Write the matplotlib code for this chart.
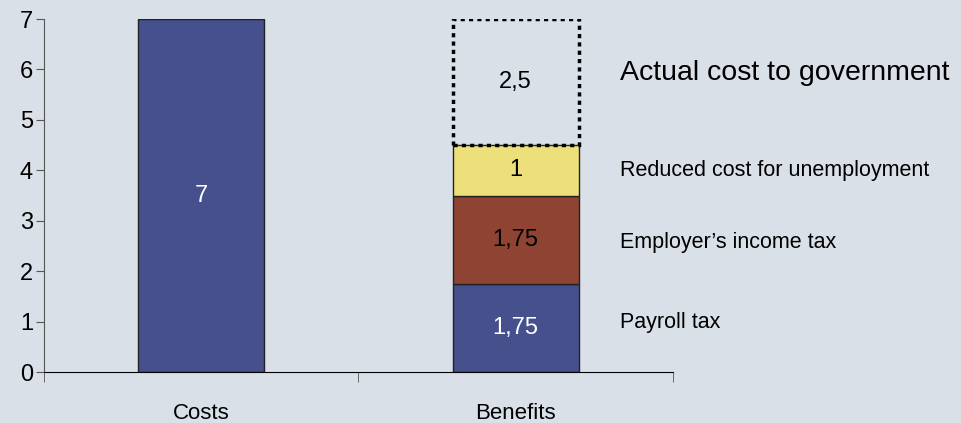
import matplotlib.pyplot as plt
import numpy as np

plt.rcParams['font.family'] = ['Liberation Sans', 'DejaVu Sans']

categories = ["Costs", "Benefits"]
costs = [7]
payroll = 1.75
employer_tax = 1.75
unemployment = 1
actual_cost = 2.5
segment_names = ["Payroll tax", "Employer\u2019s income tax",
                 "Reduced cost for unemployment", "Actual cost to government"]

bg = "#dae0e8"
blue = "#46508c"
brown = "#8f4433"
yellow = "#ede07a"

fig = plt.figure(figsize=(9.62, 4.23), dpi=100, facecolor=bg)
ax = fig.add_axes([44/962, 51/423, 629/962, 353/423])
ax.set_facecolor(bg)

x = np.arange(len(categories))
w = 0.4
ax.bar(x[0], costs[0], w, color=blue, edgecolor="#222222", linewidth=1)
ax.text(x[0], costs[0]/2, "7", color="white", ha="center", va="center", fontsize=17)

segs = [payroll, employer_tax, unemployment]
cols = [blue, brown, yellow]
txtcols = ["white", "black", "black"]
labels = ["1,75", "1,75", "1"]
name_dy = [0.1, -0.06, 0]
bottom = 0
for i, v in enumerate(segs):
    ax.bar(x[1], v, w, bottom=bottom, color=cols[i], edgecolor="#222222", linewidth=1)
    ax.text(x[1], bottom + v/2, labels[i], color=txtcols[i], ha="center", va="center", fontsize=17)
    ax.text(1.33, bottom + v/2 + name_dy[i], segment_names[i], ha="left", va="center",
            fontsize=15.5, clip_on=False)
    bottom += v

ax.bar(x[1], actual_cost, w, bottom=bottom, fill=False, edgecolor="black",
       linestyle=(0, (1.2, 1.2)), linewidth=2.5)
ax.text(x[1], bottom + actual_cost/2, "2,5", ha="center", va="center", fontsize=17)
ax.text(1.33, bottom + actual_cost/2 + 0.18, segment_names[3], ha="left", va="center",
        fontsize=20.5, clip_on=False)

ax.set_xlim(-0.5, 1.5)
ax.set_ylim(0, 7)
ax.spines["top"].set_visible(False)
ax.spines["right"].set_visible(False)
ax.spines["left"].set_color("#555555")
ax.spines["bottom"].set_color("black")
ax.set_yticks(range(0, 8))
ax.tick_params(axis="y", length=6, color="#555555", labelsize=17, pad=2)
ax.set_xticks(x)
ax.set_xticklabels(categories)
ax.tick_params(axis="x", which="major", length=0, labelsize=16, pad=22)
ax.set_xticks([-0.5, 0.5, 1.5], minor=True)
ax.tick_params(axis="x", which="minor", length=7, color="#555555")

fig.savefig("out.png", dpi=100, facecolor=bg)
